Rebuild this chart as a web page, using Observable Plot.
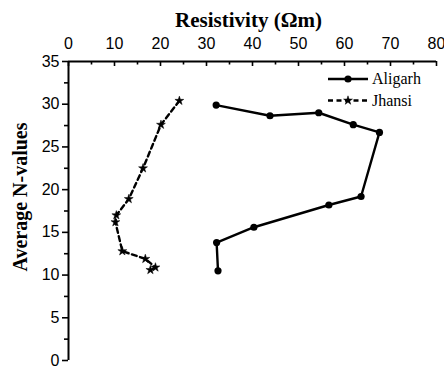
<!DOCTYPE html>
<html>
<head>
<meta charset="utf-8">
<script src="https://cdn.jsdelivr.net/npm/d3@7"></script>
<script src="https://cdn.jsdelivr.net/npm/@observablehq/plot@0.6"></script>
<style>
  body { margin: 0; background: #fff; }
  #chart { width: 444px; height: 369px; }
</style>
</head>
<body>
<div id="chart"></div>
<script>
// Average SPT N-values against resistivity at two sites
const sites = ["Aligarh", "Jhansi"];

const aligarhRes = [32.1, 43.8, 54.4, 61.9, 67.6, 63.6, 56.6, 40.3, 32.2, 32.5];
const aligarhN   = [29.9, 28.65, 29.0, 27.6, 26.7, 19.2, 18.2, 15.6, 13.8, 10.5];

const jhansiRes = [24.1, 20.1, 16.2, 13.1, 10.4, 10.2, 11.7, 16.7, 18.9, 17.8];
const jhansiN   = [30.4, 27.6, 22.5, 18.9, 17.0, 16.2, 12.8, 11.9, 10.9, 10.6];

const xMajor = [0, 10, 20, 30, 40, 50, 60, 70, 80];
const xMinor = [5, 15, 25, 35, 45, 55, 65, 75];
const yMajor = [0, 5, 10, 15, 20, 25, 30, 35];
const yMinor = [2.5, 7.5, 12.5, 17.5, 22.5, 27.5, 32.5];

const xTitle = "Resistivity (\u03A9m)";
const yTitle = "Average N-values";

const aligarh = aligarhRes.map((res, i) => ({res, n: aligarhN[i]}));
const jhansi = jhansiRes.map((res, i) => ({res, n: jhansiN[i]}));

const width = 444, height = 369;
const marginTop = 61, marginBottom = 9, marginLeft = 68, marginRight = 8;
const frameH = height - marginTop - marginBottom;

const serif = "'Liberation Serif', 'Times New Roman', serif";
const tickFont = 16;

const chart = Plot.plot({
  width, height, marginTop, marginBottom, marginLeft, marginRight,
  x: {domain: [0, 80]},
  y: {domain: [0, 35]},
  style: {fontFamily: "'Liberation Sans', Arial, sans-serif", fontSize: `${tickFont}px`, color: "#000", background: "#fff"},
  marks: [
    // top axis: labels plus inward ticks
    Plot.axisX({anchor: "top", ticks: xMajor, tickSize: 0, tickPadding: 13, label: null, fontSize: tickFont}),
    Plot.ruleX(xMajor, {insetBottom: frameH - 5, strokeWidth: 1.6}),
    Plot.ruleX(xMinor, {insetBottom: frameH - 3.5, strokeWidth: 1.6}),
    // left axis: outward ticks
    Plot.axisY({ticks: yMajor, tickSize: 6, tickPadding: 3, label: null, strokeWidth: 1.6, fontSize: tickFont}),
    Plot.axisY({ticks: yMinor, tickSize: 4, text: null, label: null, strokeWidth: 1.6}),
    Plot.ruleX([0], {strokeWidth: 2}),
    Plot.ruleY([35], {strokeWidth: 2}),
    // series
    Plot.line(aligarh, {x: "res", y: "n", stroke: "#000", strokeWidth: 2.4}),
    Plot.dot(aligarh, {x: "res", y: "n", r: 3.6, fill: "#000"}),
    Plot.line(jhansi, {x: "res", y: "n", stroke: "#000", strokeWidth: 2.4, strokeDasharray: "5,3.5"}),
    Plot.dot(jhansi, {x: "res", y: "n", symbol: "star", r: 2.8, fill: "#000", stroke: "#000", strokeWidth: 0.5}),
    // axis titles
    Plot.text([xTitle], {frameAnchor: "top", textAnchor: "middle", lineAnchor: "middle", dx: -4, dy: -41,
      fontFamily: serif, fontWeight: "bold", fontSize: 21}),
    Plot.text([yTitle], {frameAnchor: "left", textAnchor: "middle", lineAnchor: "middle", rotate: -90, dx: -48, dy: -14,
      fontFamily: serif, fontWeight: "bold", fontSize: 20})
  ]
});

// legend in the upper right of the frame
const svg = d3.select(chart);
const legend = svg.append("g").attr("transform", "translate(328,79)");
sites.forEach((name, i) => {
  const g = legend.append("g").attr("transform", `translate(0,${i * 21.5})`);
  g.append("line")
    .attr("x1", 0).attr("x2", 40).attr("y1", 0).attr("y2", 0)
    .attr("stroke", "#000").attr("stroke-width", 2.4)
    .attr("stroke-dasharray", i === 0 ? null : "5,3.5");
  if (i === 0) {
    g.append("circle").attr("cx", 20).attr("cy", 0).attr("r", 3.6).attr("fill", "#000");
  } else {
    g.append("path")
      .attr("transform", "translate(20,0)")
      .attr("d", d3.symbol(d3.symbolStar, Math.PI * 2.8 * 2.8)())
      .attr("fill", "#000").attr("stroke", "#000").attr("stroke-width", 0.5);
  }
  g.append("text")
    .attr("x", 44).attr("y", 0).attr("dy", "0.32em")
    .attr("text-anchor", "start")
    .attr("font-family", serif).attr("font-size", 16).attr("fill", "#000")
    .text(name);
});

document.getElementById("chart").append(chart);
</script>
</body>
</html>
